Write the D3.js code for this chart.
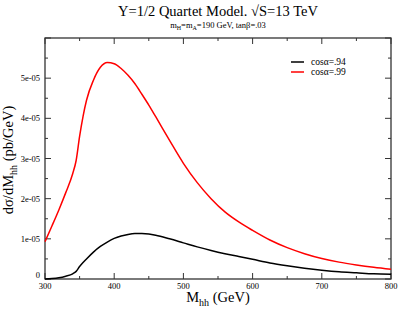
<!DOCTYPE html>
<html><head><meta charset="utf-8">
<script src="https://cdn.jsdelivr.net/npm/d3@7"></script>
<style>body{margin:0;background:#fff}svg{display:block}text{font-family:"Liberation Serif","Times New Roman",serif;fill:#000}</style>
</head><body>
<script>
const mhh = [300,310,320,330,340,345,350,355,360,370,380,390,400,410,420,430,440,450,460,480,500,520,540,560,580,600,625,650,675,700,725,750,775,800];
const cos94 = [0.0,0.01,0.03,0.07,0.13,0.19,0.31,0.41,0.50,0.67,0.81,0.92,1.01,1.07,1.11,1.13,1.13,1.12,1.09,1.00,0.90,0.80,0.71,0.63,0.56,0.49,0.40,0.33,0.27,0.22,0.18,0.155,0.13,0.12].map(v=>v*1e-5);
const cos99 = [0.93,1.32,1.72,2.15,2.62,2.95,3.55,4.05,4.45,4.95,5.27,5.39,5.36,5.24,5.07,4.86,4.60,4.33,4.04,3.45,2.88,2.40,2.00,1.67,1.42,1.21,0.97,0.78,0.63,0.51,0.42,0.35,0.29,0.24].map(v=>v*1e-5);
const seriesNames = ["cosα=.94","cosα=.99"];
const seriesColors = ["#000000","#ff0000"];
const xTicks = [300,400,500,600,700,800];
const yTicks = [0,1e-5,2e-5,3e-5,4e-5,5e-5];
const yTickLabels = ["0","1e-05","2e-05","3e-05","4e-05","5e-05"];

const W=399,H=309, L=45, R=391, T=38, B=279;
const svg=d3.select("body").append("svg").attr("width",W).attr("height",H);
const x=d3.scaleLinear().domain([300,800]).range([L,R]);
const y=d3.scaleLinear().domain([0,6e-5]).range([B,T]);

// frame
svg.append("rect").attr("x",L).attr("y",T).attr("width",R-L).attr("height",B-T)
  .attr("fill","none").attr("stroke","#333").attr("stroke-width",1.3);

const g=svg.append("g");
// x ticks (major + minor, inward, top and bottom)
d3.range(300,801,50).forEach(v=>{
  const maj = v%100===0, len = maj?6:3;
  g.append("line").attr("x1",x(v)).attr("x2",x(v)).attr("y1",B).attr("y2",B-len).attr("stroke","#333");
  g.append("line").attr("x1",x(v)).attr("x2",x(v)).attr("y1",T).attr("y2",T+len).attr("stroke","#333");
});
d3.range(0,6.01e-5,0.5e-5).forEach((v,i)=>{
  const maj = i%2===0, len = maj?6:3;
  g.append("line").attr("y1",y(v)).attr("y2",y(v)).attr("x1",L).attr("x2",L+len).attr("stroke","#333");
  g.append("line").attr("y1",y(v)).attr("y2",y(v)).attr("x1",R).attr("x2",R-len).attr("stroke","#333");
});
xTicks.forEach(v=>{
  g.append("text").attr("x",x(v)).attr("y",B+10).attr("text-anchor","middle").attr("font-size",8.5).text(v);
});
yTicks.forEach((v,i)=>{
  g.append("text").attr("x",L-5).attr("y",y(v)+(i===0?-1:3)).attr("text-anchor","end").attr("font-size",8.5).text(yTickLabels[i]);
});

// curves
const line=d3.line().x(d=>x(d[0])).y(d=>y(d[1])).curve(d3.curveMonotoneX);
[cos94,cos99].forEach((s,i)=>{
  svg.append("path").datum(mhh.map((m,j)=>[m,s[j]])).attr("d",line)
    .attr("fill","none").attr("stroke",seriesColors[i]).attr("stroke-width",1.5);
});

// legend
seriesNames.forEach((n,i)=>{
  const yy=62+i*10;
  svg.append("line").attr("x1",291).attr("x2",304).attr("y1",yy).attr("y2",yy).attr("stroke",seriesColors[i]).attr("stroke-width",1.5);
  svg.append("text").attr("x",311).attr("y",yy+3).attr("font-size",9.5).text(n);
});

// titles
svg.append("text").attr("x",218).attr("y",16).attr("text-anchor","middle").attr("font-size",14.5).text("Y=1/2 Quartet Model. √S=13 TeV");
const st=svg.append("text").attr("x",218).attr("y",28).attr("text-anchor","middle").attr("font-size",8.5);
st.append("tspan").text("m");
st.append("tspan").attr("font-size",6).attr("dy",2).text("H");
st.append("tspan").attr("dy",-2).text("=m");
st.append("tspan").attr("font-size",6).attr("dy",2).text("A");
st.append("tspan").attr("dy",-2).text("=190 GeV, tanβ=.03");

const xl=svg.append("text").attr("x",218).attr("y",302).attr("text-anchor","middle").attr("font-size",14.5);
xl.append("tspan").text("M");
xl.append("tspan").attr("font-size",10).attr("dy",4).text("hh");
xl.append("tspan").attr("dy",-4).text(" (GeV)");

const yl=svg.append("text").attr("transform","translate(13,160) rotate(-90)").attr("text-anchor","middle").attr("font-size",14.5);
yl.append("tspan").text("dσ/dM");
yl.append("tspan").attr("font-size",10).attr("dy",4).text("hh");
yl.append("tspan").attr("dy",-4).text(" (pb/GeV)");
</script>
</body></html>
